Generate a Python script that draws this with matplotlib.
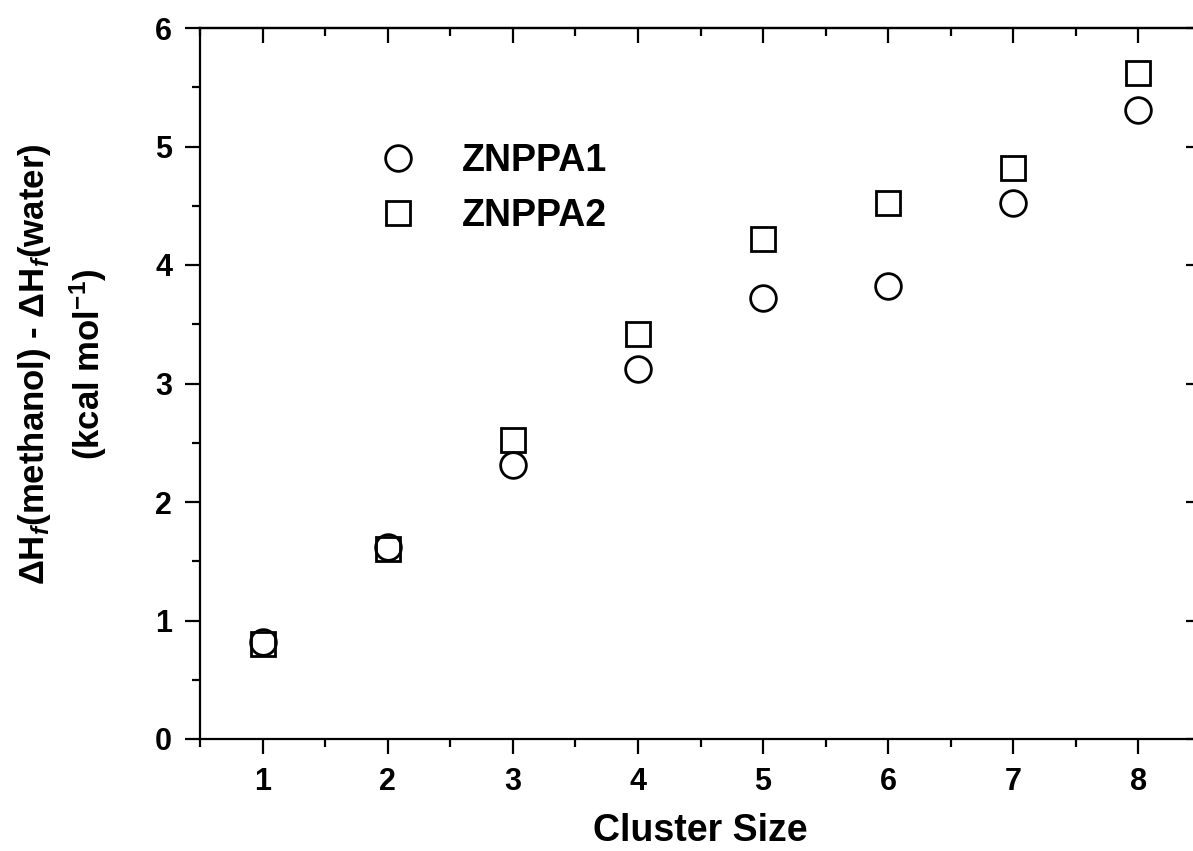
import numpy as np
import matplotlib
matplotlib.use('Agg')
from matplotlib import pyplot as plt
from matplotlib.ticker import MultipleLocator

plt.rcParams['font.family'] = ['Liberation Sans', 'DejaVu Sans']
plt.rcParams['font.weight'] = 'bold'
plt.rcParams['mathtext.fontset'] = 'custom'
plt.rcParams['mathtext.rm'] = 'Liberation Sans:bold'
plt.rcParams['mathtext.it'] = 'Liberation Sans:italic:bold'
plt.rcParams['mathtext.bf'] = 'Liberation Sans:bold'

# data
cluster_size = [1, 2, 3, 4, 5, 6, 7, 8]
znppa1 = [0.82, 1.62, 2.31, 3.12, 3.72, 3.82, 4.52, 5.31]
znppa2 = [0.80, 1.60, 2.52, 3.42, 4.22, 4.52, 4.82, 5.62]

W, H = 1193, 851
fig = plt.figure(figsize=(W/100, H/100), dpi=100)
# right spine sits just outside the picture, as in the scan
ax = fig.add_axes([200/W, 112/H, 1001/W, 711/H])

ax.plot(cluster_size, znppa1, 'o', ms=18.5, mfc='none', mec='black', mew=2.0, label='ZNPPA1')
ax.plot(cluster_size, znppa2, 's', ms=17.5, mfc='none', mec='black', mew=2.0, label='ZNPPA2')

ax.set_xlim(0.5, 8.5)
ax.set_ylim(0, 6)
ax.xaxis.set_major_locator(MultipleLocator(1))
ax.xaxis.set_minor_locator(MultipleLocator(0.5))
ax.yaxis.set_major_locator(MultipleLocator(1))
ax.yaxis.set_minor_locator(MultipleLocator(0.5))

for s in ax.spines.values():
    s.set_linewidth(1.6)

# bottom/left ticks point out, top/right point in
ax.tick_params(which='both', direction='out', width=1.6, labelsize=22, pad=9)
ax.tick_params(which='major', length=11)
ax.tick_params(which='minor', length=6)

top = ax.secondary_xaxis('top')
top.xaxis.set_major_locator(MultipleLocator(1))
top.xaxis.set_minor_locator(MultipleLocator(0.5))
top.tick_params(which='both', direction='in', width=1.6, labeltop=False)
top.tick_params(which='major', length=11)
top.tick_params(which='minor', length=6)
top.spines['top'].set_linewidth(1.6)

right = ax.secondary_yaxis('right')
right.yaxis.set_major_locator(MultipleLocator(1))
right.yaxis.set_minor_locator(MultipleLocator(0.5))
right.tick_params(which='both', direction='in', width=1.6, labelright=False)
right.tick_params(which='major', length=11)
right.tick_params(which='minor', length=6)

ax.set_xlabel('Cluster Size', fontsize=27, fontweight='bold', labelpad=12)
ax.set_ylabel('ΔH$_f$(methanol) - ΔH$_f$(water)\n(kcal mol$^{-1}$)', fontsize=25,
              fontweight='bold', ha='center', va='center', linespacing=1.45)
ax.yaxis.set_label_coords(-0.137, 0.527)

ax.legend(loc='upper left', bbox_to_anchor=(0.179, 0.838), frameon=False, fontsize=27,
          numpoints=1, handlelength=1.0, handletextpad=1.2, labelspacing=0.5,
          borderpad=0, borderaxespad=0)

fig.savefig('out.png', dpi=100)
